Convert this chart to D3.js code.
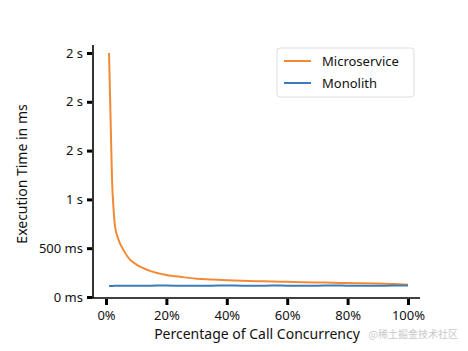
<!DOCTYPE html>
<html>
<head>
<meta charset="utf-8">
<script src="https://cdn.jsdelivr.net/npm/d3@7"></script>
<style>
  body { margin: 0; background: #fff; }
  text { font-family: "Noto Sans", "DejaVu Sans", sans-serif; fill: #111; }
</style>
</head>
<body>
<div id="canvas"></div>
<script>
// DATA
const concurrency = [1, 1.5, 2, 2.5, 3, 4, 6, 8, 10, 12, 15, 20, 25, 30, 35, 40, 45, 50, 55, 60, 65, 70, 75, 80, 85, 90, 95, 100];
const microservice = [2500, 1850, 1200, 900, 720, 600, 470, 380, 335, 300, 262, 226, 205, 188, 180, 172, 166, 162, 158, 155, 151, 149, 146, 143, 141, 138, 133, 126];
const monolith = [114, 113, 113, 114, 115, 114, 116, 116, 115, 114, 116, 117, 115, 114, 116, 117, 116, 115, 117, 116, 115, 116, 117, 116, 115, 116, 117, 118];
const yTickValues = [0, 500, 1000, 1500, 2000, 2500];
const yTickLabels = ["0 ms", "500 ms", "1 s", "2 s", "2 s", "2 s"];
const xTickValues = [0, 20, 40, 60, 80, 100];
const seriesNames = ["Microservice", "Monolith"];
const seriesColors = ["#f28a35", "#3b7cb8"];

// DIMENSIONS
const width = 468;
const height = 351;

const svg = d3.select("#canvas").append("svg")
  .attr("width", width)
  .attr("height", height);

// SCALES
const x = d3.scaleLinear().domain([0, 100]).range([106, 408]);
const y = d3.scaleLinear().domain([0, 2500]).range([297, 53]);

const plot = svg.append("g");

// SPINES
plot.append("line").attr("x1", 93).attr("x2", 93).attr("y1", 45).attr("y2", 298)
  .attr("stroke", "#000").attr("stroke-width", 1.6);
plot.append("line").attr("x1", 92).attr("x2", 420).attr("y1", 298).attr("y2", 298)
  .attr("stroke", "#000").attr("stroke-width", 1.6);

// LINES
const line = d3.line().x((d, i) => x(concurrency[i])).y(d => y(d)).curve(d3.curveMonotoneX);
[microservice, monolith].forEach((vals, k) => {
  plot.append("path")
    .datum(vals)
    .attr("d", line)
    .attr("fill", "none")
    .attr("stroke", seriesColors[k])
    .attr("stroke-width", 2)
    .attr("stroke-linejoin", "round");
});

// AXES
const yAx = d3.axisLeft(y).tickValues(yTickValues)
  .tickFormat((d, i) => yTickLabels[i]).tickSize(5).tickPadding(4);
const yaxis = svg.append("g").attr("transform", "translate(92,0)").call(yAx);
yaxis.select(".domain").remove();
yaxis.selectAll(".tick line").attr("stroke-width", 3).attr("stroke", "#000");
yaxis.selectAll("text").style("font-size", "13px");

const xAx = d3.axisBottom(x).tickValues(xTickValues)
  .tickFormat(d => d + "%").tickSize(6).tickPadding(6);
const xaxis = svg.append("g").attr("transform", "translate(0,299)").call(xAx);
xaxis.select(".domain").remove();
xaxis.selectAll(".tick line").attr("stroke-width", 3).attr("stroke", "#000");
xaxis.selectAll("text").style("font-size", "13px");

// LABELS
svg.append("text")
  .attr("x", 257).attr("y", 339)
  .attr("text-anchor", "middle")
  .style("font-size", "14px")
  .text("Percentage of Call Concurrency");

svg.append("text")
  .attr("transform", "translate(27,174) rotate(-90)")
  .attr("text-anchor", "middle")
  .style("font-size", "14px")
  .text("Execution Time in ms");

// LEGEND
const legend = svg.append("g");
legend.append("rect")
  .attr("x", 277).attr("y", 48).attr("width", 137).attr("height", 49)
  .attr("rx", 3)
  .attr("fill", "#fff").attr("stroke", "#ddd").attr("stroke-width", 1);
seriesNames.forEach((name, i) => {
  legend.append("line")
    .attr("x1", 284).attr("x2", 311)
    .attr("y1", 61 + i * 22).attr("y2", 61 + i * 22)
    .attr("stroke", seriesColors[i]).attr("stroke-width", 2);
  legend.append("text")
    .attr("x", 322).attr("y", 66 + i * 22)
    .style("font-size", "13px")
    .text(name);
});

// WATERMARK
svg.append("text")
  .attr("x", 458).attr("y", 338)
  .attr("text-anchor", "end")
  .style("font-size", "10px")
  .style("fill", "#c8c8c8")
  .style("font-family", "'Noto Sans CJK SC', sans-serif")
  .text("@稀土掘金技术社区");
</script>
</body>
</html>
